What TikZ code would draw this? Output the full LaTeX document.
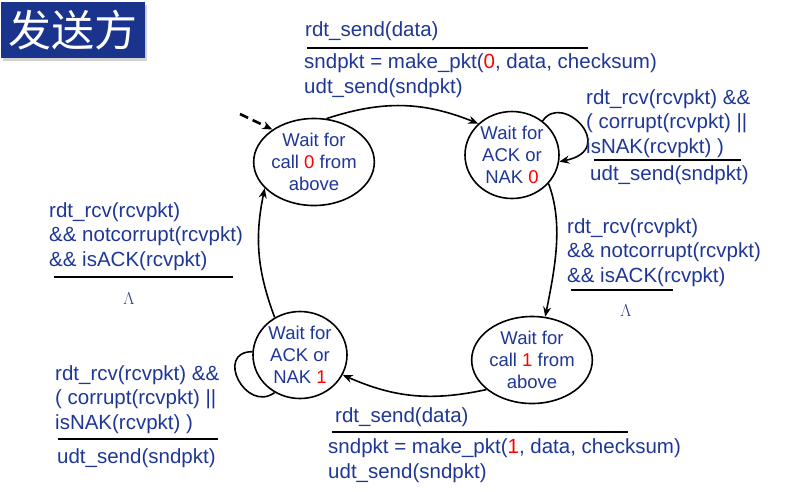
\documentclass[tikz,border=0pt]{standalone}
\usepackage{fontspec}
\setmainfont{Liberation Sans}
\newfontfamily\cjkfont{Noto Sans CJK SC}
\usetikzlibrary{shapes.geometric,arrows.meta}
\definecolor{txtblue}{RGB}{30,55,150}
\definecolor{titleblue}{RGB}{26,52,142}
\newcommand{\rd}[1]{\textcolor{red}{#1}}
\begin{document}
\begin{tikzpicture}[x=1pt,y=-1pt,
  fsm/.style={ellipse, draw, line width=1.6pt, minimum width=94pt, minimum height=87pt, inner sep=0pt, align=center, text=txtblue, font=\fontsize{18.5}{22}\selectfont},
  lbl/.style={anchor=base west, inner sep=0pt, align=left, text=txtblue, font=\fontsize{20.5}{24.5}\selectfont},
  sepline/.style={line width=2.4pt},
  trans/.style={line width=1.6pt, -{Stealth[length=10pt,width=8pt]}},
  lam/.style={anchor=base, inner sep=0pt, text=txtblue, font=\fontsize{19}{19}\selectfont}
]
\useasboundingbox (0,0) rectangle (808,491);
% title
\fill[black!18] (3,5) rectangle (147,61);
\node (title) [fill=titleblue, minimum width=144pt, minimum height=56pt, anchor=north west, inner sep=0pt, text=white, font=\cjkfont\fontsize{43}{43}\selectfont] at (1,2) {发送方};

% states
\node (S0) [fsm] at (314,162) {Wait for\\call \rd{0} from\\above};
\node (S1) [fsm] at (512,155) {Wait for\\ACK or\\NAK \rd{0}};
\node (S2) [fsm] at (532,360) {Wait for\\call \rd{1} from\\above};
\node (S3) [fsm] at (300,355) {Wait for\\ACK or\\NAK \rd{1}};

% transitions
\coordinate (init) at (240,114);
\draw[trans, line width=2.6pt, dash pattern=on 9pt off 5pt] (init) -- (S0.142);
\draw[trans] (S0.74) to[bend left=20] (S1.137);
\draw[trans] (S1.48) .. controls +(20,-30) and +(60,-12) .. (S1.-8);
\draw[trans] (S1.-38) .. controls +(15,40) and +(10,-50) .. (S2.73);
\draw[trans] (S2.213) to[bend left=18] (S3.-25);
\draw[line width=1.6pt] (S3.176) .. controls +(-38,0) and +(-29,21) .. (S3.-124);
\draw[trans] (S3.124) to[bend left=16] (S0.208);

% top label
\node (tcond) [lbl] at (305,36) {rdt\_send(data)};
\draw[sepline] (307,48) -- (588,48);
\node (tact) [lbl] at (304,93) {sndpkt = make\_pkt(\rd{0}, data, checksum)\\udt\_send(sndpkt)};

% right loop label
\node (rlcond) [lbl] at (586,153) {rdt\_rcv(rcvpkt) \&\&\\( corrupt(rcvpkt) ||\\isNAK(rcvpkt) )};
\draw[sepline] (594,160) -- (741,160);
\node (rlact) [lbl] at (590,180) {udt\_send(sndpkt)};

% right middle label
\node (rmcond) [lbl] at (567,282) {rdt\_rcv(rcvpkt)\\\&\& notcorrupt(rcvpkt)\\\&\& isACK(rcvpkt)};
\draw[sepline] (571,290) -- (673,290);
\node (rmact) [lam] at (626,316) {$\Lambda$};

% left label
\node (lcond) [lbl] at (49,266) {rdt\_rcv(rcvpkt)\\\&\& notcorrupt(rcvpkt)\\\&\& isACK(rcvpkt)};
\draw[sepline] (54,277) -- (233,277);
\node (lact) [lam] at (129,304) {$\Lambda$};

% bottom-left loop label
\node (blcond) [lbl] at (55,429) {rdt\_rcv(rcvpkt) \&\&\\( corrupt(rcvpkt) ||\\isNAK(rcvpkt) )};
\draw[sepline] (58,439) -- (218,439);
\node (blact) [lbl] at (57,463) {udt\_send(sndpkt)};

% bottom label
\node (bcond) [lbl] at (335,422) {rdt\_send(data)};
\draw[sepline] (332,432) -- (628,432);
\node (bact) [lbl] at (328,478) {sndpkt = make\_pkt(\rd{1}, data, checksum)\\udt\_send(sndpkt)};
\end{tikzpicture}
\end{document}
